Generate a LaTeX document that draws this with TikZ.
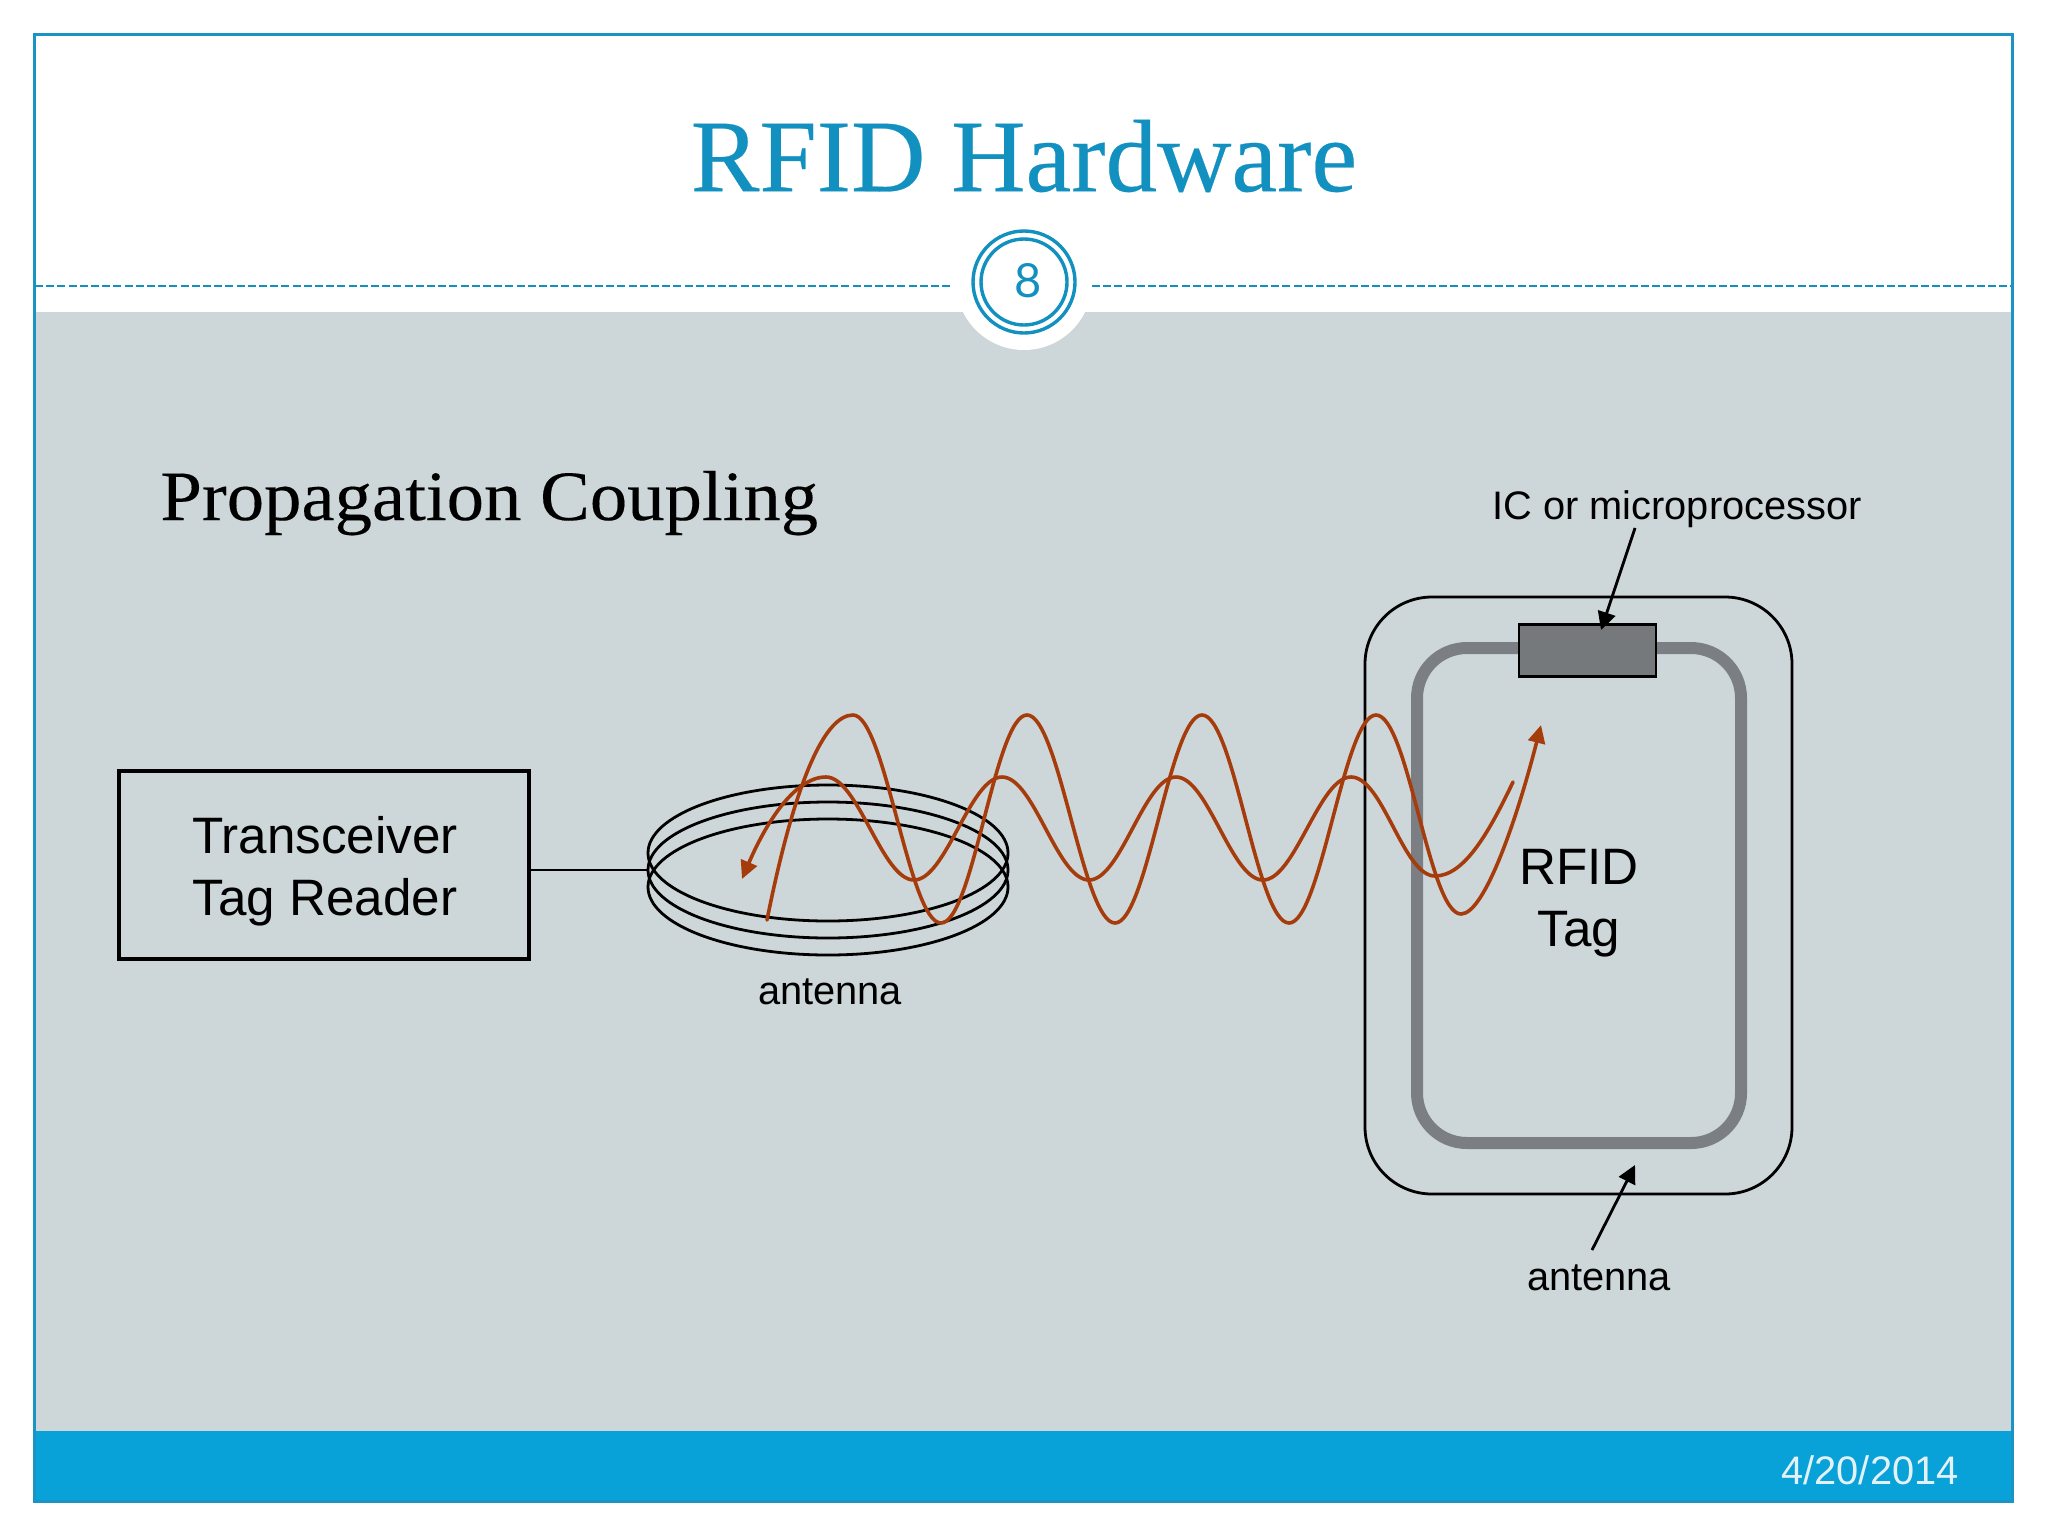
\documentclass[tikz,border=0pt]{standalone}
\usepackage{fontspec}
\setmainfont{Liberation Sans}
\newfontfamily\serifface[FakeBold=0.25]{Liberation Serif}
\newfontfamily\headface[FakeStretch=1.055,FakeBold=0.2]{Liberation Serif}
\newfontfamily\numface{Lato}
\usetikzlibrary{arrows.meta,shapes.geometric}
\definecolor{panel}{HTML}{CDD6D8}
\definecolor{accent}{HTML}{1290C0}
\definecolor{barblue}{HTML}{08A2D8}
\definecolor{framec}{HTML}{1A94C4}
\definecolor{wave}{HTML}{A63C0B}
\definecolor{loopgray}{HTML}{7B7F83}
\definecolor{chipgray}{HTML}{76797C}
\definecolor{datec}{HTML}{E4F2F8}
\tikzset{
  lab/.style={font=\fontsize{19.9}{24}\selectfont,inner sep=0pt,text=black},
  big/.style={font=\fontsize{25.6}{31}\selectfont,inner sep=0pt,align=center,text=black},
  coil/.style={draw=black,line width=1.4pt,ellipse,minimum width=180pt,minimum height=68pt,inner sep=0pt,outer sep=0pt},
  wavy/.style={draw=wave,line width=1.8pt,line cap=round},
  wtip/.style={-{Triangle[length=9pt,width=8.5pt]}},
  pointer/.style={draw=black,line width=1.4pt,-{Triangle[length=9pt,width=9pt]}},
  dashrule/.style={draw=accent,line width=1.4pt,dash pattern=on 4pt off 1.6pt},
}
\begin{document}
\begin{tikzpicture}[x=0.5pt,y=-0.5pt]
\useasboundingbox (0,0) rectangle (2048,1536);
\fill[white] (0,0) rectangle (2048,1536);
% panels
\fill[panel] (34,312) rectangle (2012,1431);
\fill[barblue] (34,1431) rectangle (2012,1501);
\draw[framec,line width=1.5pt] (34,35) rectangle (2012,1501);
% header
\node[font=\serifface\fontsize{51.5}{60}\selectfont,text=accent,inner sep=0pt] (title) at (1024,156) {RFID Hardware};
\draw[dashrule] (35,286) -- (953,286);
\draw[dashrule] (1092,286) -- (2011,286);
\fill[white] (1024,282) circle[radius=34pt];
\node[circle,draw=accent,line width=1.7pt,minimum size=51pt,inner sep=0pt] (outerring) at (1024,282) {};
\node[circle,draw=accent,line width=1.7pt,minimum size=43pt,inner sep=0pt] (innerring) at (1024,282) {};
\node[font=\numface\fontsize{23.5}{28}\selectfont,text=accent,inner sep=0pt] (pagenum) at (1028,281) {8};
\node[font=\fontsize{19.9}{24}\selectfont,text=datec,inner sep=0pt] (date) at (1870,1470) {4/20/2014};
% heading
\node[font=\headface\fontsize{35.4}{42}\selectfont,text=black,inner sep=0pt,anchor=base west] (heading) at (160,520) {Propagation Coupling};
% reader
\node[draw=black,line width=2pt,minimum width=205pt,minimum height=94pt,inner sep=0pt,outer sep=0pt] (reader) at (324,865) {};
\node[big] (readerlabel) at (325,871) {Transceiver\\Tag Reader};
% coil
\node[coil] (coilA) at (828,853) {};
\node[coil] (coilB) at (828,870) {};
\node[coil] (coilC) at (828,887) {};
\draw[black,line width=1.4pt] (reader.east |- coilB.west) -- (coilB.west);
\node[lab] (antennaL) at (830,992) {antenna};
% tag
\node[draw=black,line width=1.4pt,rounded corners=33.5pt,minimum width=213.5pt,minimum height=298.5pt,inner sep=0pt,outer sep=0pt] (tag) at (1578.5,895.5) {};
\node[draw=loopgray,line width=6pt,rounded corners=25pt,minimum width=162pt,minimum height=247.5pt,inner sep=0pt,outer sep=0pt] (loop) at (1579,895.5) {};
\node[draw=black,line width=1.4pt,fill=chipgray,minimum width=68.5pt,minimum height=26pt,inner sep=0pt,outer sep=0pt] (chip) at (1587.5,650.5) {};
\node[big] (taglabel) at (1579,903) {RFID\\Tag};
\node[lab] (iclabel) at (1677,509) {IC or microprocessor};
\node[lab] (antennaR) at (1599,1278) {antenna};
\coordinate (icfrom) at (1635,528);
\coordinate (icto) at (1601,630);
\coordinate (atfrom) at (1592,1250);
\coordinate (atto) at (1635,1165);
\draw[pointer] (icfrom) -- (icto);
\draw[pointer] (atfrom) -- (atto);
% waves
\coordinate (waS) at (767,920);
\coordinate (waE) at (1541,725);
\coordinate (wbS) at (1513,782);
\coordinate (wbE) at (742,879);
\draw[wavy,wtip] (waS) .. controls (795,780) and (825,715) .. (853,715)
  .. controls (885,715) and (909,923) .. (941,923)
  .. controls (973,923) and (995,715) .. (1027,715)
  .. controls (1059,715) and (1083,923) .. (1115,923)
  .. controls (1147,923) and (1170,715) .. (1202,715)
  .. controls (1234,715) and (1257,923) .. (1289,923)
  .. controls (1321,923) and (1344,715) .. (1376,715)
  .. controls (1408,715) and (1429,914) .. (1461,914)
  .. controls (1485,914) and (1518,815) .. (waE);
\draw[wavy,wtip] (wbS) .. controls (1490,830) and (1465,876) .. (1435,876)
  .. controls (1403,876) and (1383,777) .. (1351,777)
  .. controls (1319,777) and (1295,880) .. (1263,880)
  .. controls (1231,880) and (1208,777) .. (1176,777)
  .. controls (1144,777) and (1121,880) .. (1089,880)
  .. controls (1057,880) and (1034,777) .. (1002,777)
  .. controls (970,777) and (946,880) .. (914,880)
  .. controls (882,880) and (858,777) .. (826,777)
  .. controls (794,777) and (765,825) .. (wbE);
\end{tikzpicture}
\end{document}
